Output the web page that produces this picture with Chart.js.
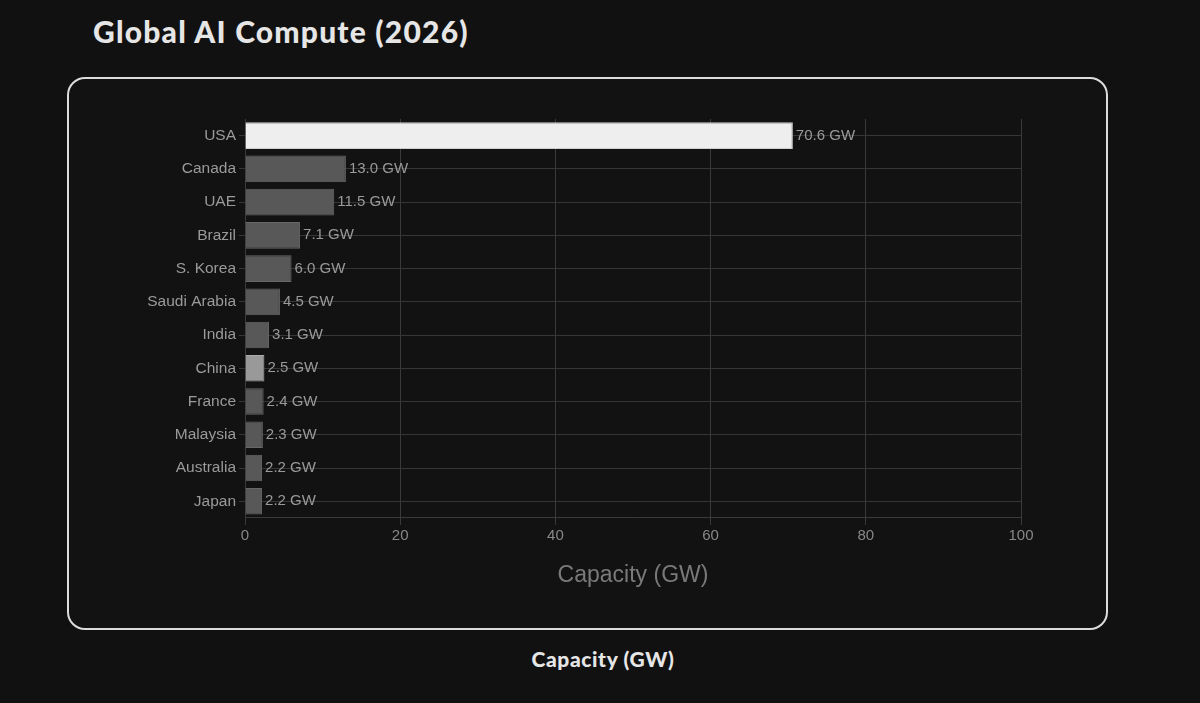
<!DOCTYPE html>
<html>
<head>
<meta charset="utf-8">
<script src="https://cdn.jsdelivr.net/npm/chart.js@4"></script>
<style>
  html, body { margin: 0; padding: 0; background: #111111; }
  body { width: 1200px; height: 703px; position: relative; overflow: hidden; }
  h1 {
    position: absolute; left: 93px; top: 13px; margin: 0;
    font-family: Lato, sans-serif; font-weight: 900; font-size: 30px;
    color: #e6e6e6; letter-spacing: 1.2px;
  }
  .box {
    position: absolute; left: 67px; top: 77px; width: 1041px; height: 553px;
    box-sizing: border-box; border: 2px solid #dcdcdc; border-radius: 18px;
    background: #121212;
  }
  .foot {
    position: absolute; left: 0; width: 1200px; top: 646px; text-align: center;
    font-family: Lato, sans-serif; font-weight: 900; font-size: 21px; color: #e6e6e6;
    letter-spacing: 0.6px; padding-left: 6px; box-sizing: border-box;
  }
  #wrap { position: absolute; left: 0; top: 0; width: 1200px; height: 703px; }
</style>
</head>
<body>
<h1>Global AI Compute (2026)</h1>
<div class="box"></div>
<div class="foot">Capacity (GW)</div>
<div id="wrap"><canvas id="myChart"></canvas></div>
<script>
const countries = ['USA', 'Canada', 'UAE', 'Brazil', 'S. Korea', 'Saudi Arabia', 'India', 'China', 'France', 'Malaysia', 'Australia', 'Japan'];
const capacity = [70.6, 13.0, 11.5, 7.1, 6.0, 4.5, 3.1, 2.5, 2.4, 2.3, 2.2, 2.2];
const xTicks = [0, 20, 40, 60, 80, 100];

const fills = countries.map(c => c === 'USA' ? '#eeeeee' : (c === 'China' ? '#999999' : '#585858'));
const borders = countries.map(c => c === 'USA' ? '#cfcfcf' : (c === 'China' ? '#aaaaaa' : '#686868'));

// draws "x.x GW" after each bar
const valueLabels = {
  id: 'valueLabels',
  afterDatasetsDraw(chart) {
    const ctx = chart.ctx;
    const meta = chart.getDatasetMeta(0);
    ctx.save();
    ctx.font = '15px "Liberation Sans", Arial, sans-serif';
    ctx.fillStyle = '#9a9a9a';
    ctx.textBaseline = 'middle';
    ctx.textAlign = 'left';
    meta.data.forEach((bar, i) => {
      ctx.fillText(capacity[i].toFixed(1) + ' GW', bar.x + 3, bar.y);
    });
    ctx.restore();
  }
};

let ctx = document.getElementById('myChart');
let myChart = new Chart(ctx, {
  type: 'bar',
  data: {
    labels: countries,
    datasets: [{
      label: 'Capacity (GW)',
      data: capacity,
      backgroundColor: fills,
      borderColor: borders,
      borderWidth: 1,
      barPercentage: 0.8,
      categoryPercentage: 1.0
    }]
  },
  options: {
    indexAxis: 'y',
    responsive: true,
    maintainAspectRatio: false,
    animation: false,
    layout: {
      padding: { left: 135, right: 179, top: 119, bottom: 110 }
    },
    plugins: {
      legend: { display: false },
      tooltip: { enabled: false }
    },
    scales: {
      x: {
        min: 0,
        max: 100,
        afterBuildTicks: scale => { scale.ticks = xTicks.map(v => ({ value: v })); },
        grid: { color: '#3a3a3a', tickLength: 7 },
        border: { color: '#3a3a3a' },
        ticks: {
          color: '#888888',
          padding: 2,
          font: { family: '"Liberation Sans", Arial, sans-serif', size: 15 }
        },
        title: {
          display: true,
          text: 'Capacity (GW)',
          color: '#7a7a7a',
          padding: { top: 14.5, bottom: 4 },
          font: { family: '"Liberation Sans", Arial, sans-serif', size: 23 }
        }
      },
      y: {
        afterFit: scale => { scale.width = 110; },
        grid: { color: '#363636', offset: false, tickLength: 6 },
        border: { color: '#3a3a3a' },
        ticks: {
          color: '#9a9a9a',
          padding: 3,
          font: { family: '"Liberation Sans", Arial, sans-serif', size: 15.5 }
        }
      }
    }
  },
  plugins: [valueLabels]
});
</script>
</body>
</html>
